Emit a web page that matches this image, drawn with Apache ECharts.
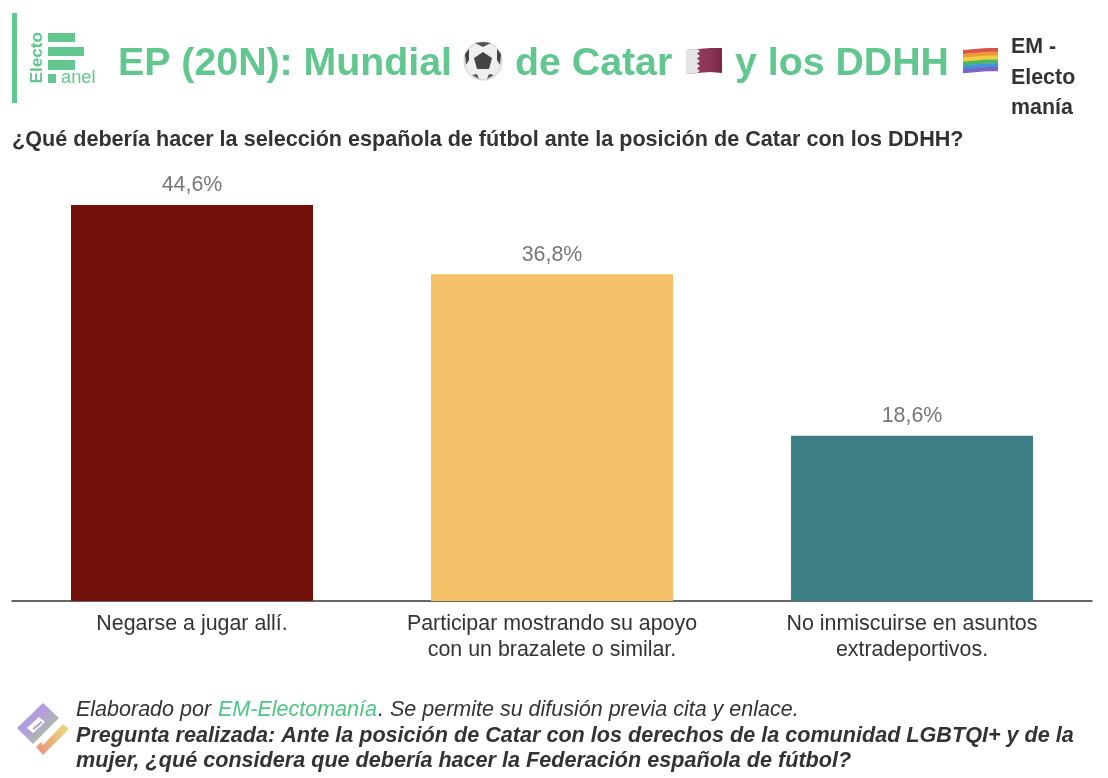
<!DOCTYPE html>
<html><head><meta charset="utf-8">
<style>html,body{margin:0;padding:0;background:#fff}#c{width:1108px;height:778px}</style>
<script src="https://cdn.jsdelivr.net/npm/echarts@6/dist/echarts.min.js"></script>
</head><body><div id="c"></div>
<script>
const categories = ["Negarse a jugar allí.", "Participar mostrando su apoyo\ncon un brazalete o similar.", "No inmiscuirse en asuntos\nextradeportivos."];
const values = [44.6, 36.8, 18.6];
const barColors = ["#73120A", "#F5C168", "#3B7F85"];
const rainbow = ["#D9534A", "#EE9A3C", "#F2CE3E", "#4DB85C", "#3F93D6", "#7766C8"];
const GREEN = "#62C78F", DARK = "#333333", FONT = "Liberation Sans";

const t = (x, y, text, size, weight, fill, style) => ({type: "text", x, y: y - size * 0.355, z: 10,
  style: {text, font: `${style || "normal"} ${weight} ${size}px "${FONT}"`, fill, verticalAlign: "middle"}});
const r = (x, y, width, height, fill) => ({type: "rect", shape: {x, y, width, height}, style: {fill}});
const poly = (points, fill) => ({type: "polygon", z: 1, shape: {points}, style: {fill}});

const gradSide = new echarts.graphic.LinearGradient(0, 0, 1, 1, [
  {offset: 0, color: "#7FB0D2"}, {offset: .4, color: "#B69BDF"}, {offset: .75, color: "#A9BFA6"}, {offset: 1, color: "#E0A88E"}]);
const grad2 = new echarts.graphic.LinearGradient(1, 0, 0, 1, [
  {offset: 0, color: "#EEDC7E"}, {offset: 1, color: "#E8917A"}]);
const flagGrad = new echarts.graphic.LinearGradient(0, 0, 1, 0, [
  {offset: 0, color: "#96405F"}, {offset: .7, color: "#8A3355"}, {offset: 1, color: "#7A2746"}]);

const wave = [[0, 1], [12, 0], [24, -1], [35, -1]];
const stripe = i => {
  const h = 3.8;
  const top = wave.map(([dx, dy]) => [963 + dx, 49 + dy + i * h]);
  const bottom = wave.slice().reverse().map(([dx, dy]) => [963 + dx, 49 + dy + (i + 1) * h + 0.4]);
  return poly(top.concat(bottom), rainbow[i]);
};

const graphics = [
  r(12, 13, 5, 90, GREEN),
  r(48, 33, 27, 9, GREEN), r(48, 47, 36, 9, GREEN), r(48, 60, 27, 10, GREEN), r(48, 74, 8, 9, GREEN),
  {type: "text", x: 37, y: 83.5, rotation: Math.PI / 2, z: 10,
    style: {text: "Electo", font: `bold 17.2px "${FONT}"`, fill: GREEN, verticalAlign: "middle"}},
  t(61, 84, "anel", 18.3, "normal", GREEN),
  t(118, 78, "EP (20N): Mundial", 39.3, "bold", GREEN),
  t(515, 78, "de Catar", 39.3, "bold", GREEN),
  t(735, 78, "y los DDHH", 39.3, "bold", GREEN),
  // ball
  {type: "circle", shape: {cx: 483, cy: 61, r: 19}, style: {fill: "#EFEFEF", stroke: "#aaa", lineWidth: 0.6}},
  poly([[483, 52], [492, 58], [489, 69], [477, 69], [474, 58]], "#444"),
  poly([[475, 43], [483, 42], [491, 43], [483, 47]], "#555"),
  poly([[465, 54], [469, 49], [469, 60], [466, 65]], "#444"),
  poly([[501, 54], [497, 49], [497, 60], [500, 65]], "#444"),
  poly([[472, 75], [477, 74], [479, 79]], "#555"),
  poly([[494, 75], [489, 74], [487, 79]], "#555"),
  // Qatar flag
  poly([[686, 50], [698, 49], [710, 48], [722, 48], [722, 73], [710, 72], [698, 73], [686, 74]], flagGrad),
  poly([[686, 50], [697, 49], [700, 51], [697, 53.5], [700, 56], [697, 58.5], [700, 61], [697, 63.5], [700, 66], [697, 68.5], [700, 71], [697, 73], [686, 74]], "#E4E4E4"),
  // rainbow flag
  ...rainbow.map((c, i) => stripe(i)),
  t(1011, 55, "EM -", 21.4, "bold", DARK),
  t(1011, 86, "Electo", 21.4, "bold", DARK),
  t(1011, 116, "manía", 21.4, "bold", DARK),
  t(12, 148, "¿Qué debería hacer la selección española de fútbol ante la posición de Catar con los DDHH?", 21.6, "bold", DARK),
  // footer logo
  poly([[43, 703], [59, 718], [33, 744], [17, 728]], gradSide),
  poly([[63, 724], [69, 729], [43, 755], [36, 747], [41, 742], [43, 745]], grad2),
  poly([[39, 717], [45, 722], [33, 733], [27, 728]], "#fff"),
  poly([[41, 721], [42.5, 722.5], [34, 730], [32.5, 728.5]], "#A9AEC8"),
  t(76, 718, "Elaborado por", 21.5, "normal", DARK, "italic"),
  t(218, 718, "EM-Electomanía", 21.5, "normal", "#4FC585", "italic"),
  t(378, 718, ". Se permite su difusión previa cita y enlace.", 21.5, "normal", DARK, "italic"),
  t(76, 744, "Pregunta realizada: Ante la posición de Catar con los derechos de la comunidad LGBTQI+ y de la", 21.6, "bold", DARK, "italic"),
  t(76, 769, "mujer, ¿qué considera que debería hacer la Federación española de fútbol?", 21.6, "bold", DARK, "italic"),
];

const chart = echarts.init(document.getElementById("c"), null, {renderer: "canvas"});
chart.setOption({
  animation: false,
  backgroundColor: "#fff",
  textStyle: {fontFamily: FONT},
  grid: {left: 12, right: 16, top: 157, bottom: 177, containLabel: false},
  xAxis: {type: "category", data: categories,
    axisLine: {lineStyle: {color: "#333", width: 1.5}}, axisTick: {show: false},
    axisLabel: {color: "#333", fontSize: 21.4, lineHeight: 26, margin: 10, fontFamily: FONT, interval: 0}},
  yAxis: {type: "value", min: 0, max: 50, show: false, splitLine: {show: false}},
  series: [{type: "bar", barWidth: 242,
    data: values.map((v, i) => ({value: v, itemStyle: {color: barColors[i]}})),
    label: {show: true, position: "top", distance: 9, color: "#777", fontSize: 21.4, fontFamily: FONT,
      formatter: p => p.value.toFixed(1).replace(".", ",") + "%"}}],
  graphic: {elements: graphics}
});
</script></body></html>
